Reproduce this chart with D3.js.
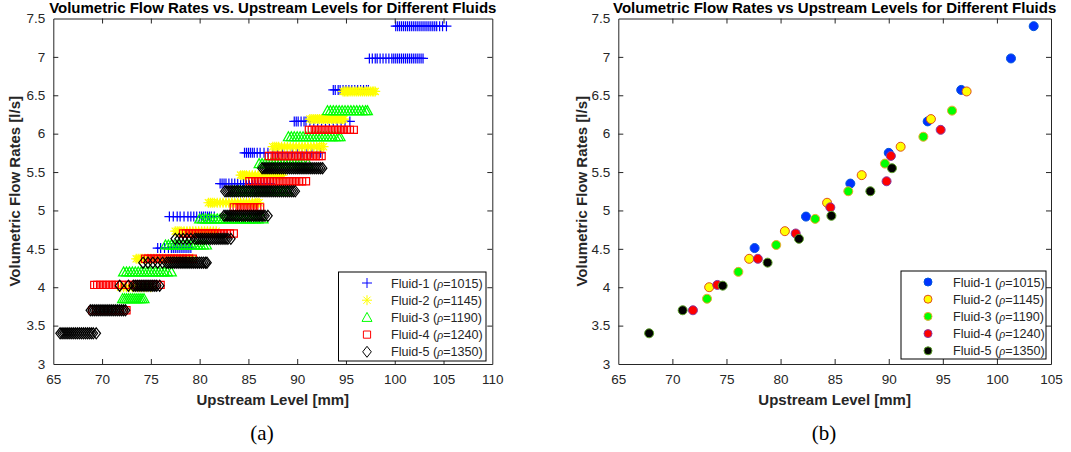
<!DOCTYPE html>
<html lang="en">
<head>
  <meta charset="UTF-8">
  <title>Volumetric Flow Rates vs Upstream Levels</title>
  <script src="https://d3js.org/d3.v7.min.js"></script>
  <style>
    body { margin: 0; background: #fff; }
    svg { display: block; font-family: "Liberation Sans", Arial, sans-serif; }
    .tick-label { font-size: 13.5px; fill: #262626; }
    .axis-title { font-size: 15px; font-weight: bold; fill: #262626; }
    .chart-title { font-size: 15px; font-weight: bold; fill: #000; }
    .legend-text { font-size: 12.6px; fill: #262626; }
    .caption { font-family: "Liberation Serif", "DejaVu Serif", serif; font-size: 21px; fill: #000; }
  </style>
</head>
<body>
<script>
// legend names and densities
const fluidNames = ["Fluid-1", "Fluid-2", "Fluid-3", "Fluid-4", "Fluid-5"];
const densities = [1015, 1145, 1190, 1240, 1350];

// flow rate levels [l/s] per fluid
const f1Rates = [7.40, 6.98, 6.57, 6.16, 5.75, 5.35, 4.92, 4.51];
const f2Rates = [6.55, 6.19, 5.83, 5.46, 5.10, 4.73, 4.37, 4.00];
const f3Rates = [6.30, 5.96, 5.61, 5.25, 4.89, 4.55, 4.20, 3.85];
const f4Rates = [6.05, 5.71, 5.38, 5.04, 4.70, 4.37, 4.03, 3.70];
const f5Rates = [5.55, 5.25, 4.93, 4.63, 4.32, 4.02, 3.70, 3.40];

// mean upstream level [mm] per flow rate (panel b)
const f1Mean = [103.4, 101.3, 96.7, 93.6, 90.0, 86.45, 82.35, 77.6];
const f2Mean = [97.2, 93.9, 91.1, 87.5, 84.3, 80.4, 77.1, 73.4];
const f3Mean = [95.85, 93.2, 89.65, 86.26, 83.2, 79.6, 76.1, 73.2];
const f4Mean = [94.8, 90.2, 89.8, 84.6, 81.4, 77.9, 74.15, 71.9];
const f5Mean = [90.3, 88.3, 84.7, 81.7, 78.8, 74.65, 70.95, 67.85];

// individual upstream level readings [mm] per flow rate (panel a)
const f1Runs = [
  [100.1,100.3,100.5,100.7,100.9,101.1,101.3,101.5,101.7,101.9,102.1,102.3,102.5,102.7,102.9,103.1,103.3,103.5,103.7,103.9,104.1,104.3,104.6,104.9,105.3],
  [97.4,97.7,98.0,98.2,98.5,98.8,99.1,99.4,99.7,99.9,100.1,100.3,100.5,100.7,100.9,101.1,101.3,101.5,101.7,101.9,102.1,102.3,102.5,102.7,102.9],
  [93.7,93.9,94.2,94.4,94.7,95.0,95.3,95.6,95.9,96.2,96.5,96.8,97.1,97.3],
  [89.7,89.9,90.1,90.4,90.7,90.9,91.3,91.7,92.1,92.5,92.9,93.3,93.7,94.1,94.5,94.9,95.4],
  [84.6,84.8,85.0,85.2,85.4,85.6,85.9,86.2,86.6,87.0,87.5,88.0,88.5,89.0,89.5,90.0,90.5,91.0,91.5,92.0,92.4],
  [82.1,82.3,82.5,82.7,83.0,83.3,83.6,83.9,84.2,84.5,84.8,85.1,85.4,85.7,86.0,86.3,86.6,86.9,87.2],
  [76.9,77.3,77.7,78.0,78.4,78.8,79.1,79.4,79.7,80.0,80.2,80.4,80.6,80.8,81.0,81.2,81.5],
  [75.7,76.0,76.4,76.8,77.1,77.3,77.5,77.7,77.9,78.1,78.3,78.5,78.7,78.9,79.1]
];
const f2Runs = [
  [94.7,94.85,95.0,95.15,95.3,95.5,95.7,95.9,96.1,96.3,96.5,96.7,96.9,97.1,97.3,97.5,97.7,97.85,98.0],
  [91.3,91.5,91.7,91.9,92.1,92.3,92.5,92.7,92.9,93.1,93.3,93.5,93.7,93.9,94.1,94.3,94.5,94.65,94.8],
  [87.5,87.7,87.9,88.1,88.4,88.7,89.0,89.3,89.6,89.9,90.2,90.5,90.8,91.1,91.4,91.7,92.0,92.3,92.5,92.7],
  [84.2,84.4,84.6,84.8,85.1,85.4,85.7,86.0,86.3,86.6,86.9,87.2,87.5,87.8,88.1,88.3,88.5],
  [80.9,81.1,81.3,81.5,81.8,82.1,82.4,82.7,83.0,83.3,83.6,83.9,84.2,84.5,84.8,85.1,85.4,85.7,85.9,86.1],
  [77.5,77.7,77.9,78.1,78.4,78.7,79.0,79.3,79.6,79.9,80.2,80.5,80.8,81.1,81.4,81.7],
  [73.5,73.7,73.9,74.1,74.4,74.7,75.0,75.3,75.6,75.9,76.2,76.5,76.8,77.1,77.4,77.7,78.0,78.3,78.6,78.9,79.3],
  [71.9,72.2,72.5,72.8,73.1,73.4,73.7,74.0,74.3,74.6,75.0]
];
const f3Runs = [
  [93.1,93.4,93.7,94.0,94.3,94.6,94.9,95.2,95.5,95.8,96.1,96.4,96.7,97.0,97.2],
  [89.1,89.4,89.7,90.0,90.3,90.6,90.9,91.2,91.5,91.8,92.1,92.4,92.7,93.0,93.3,93.6,93.9,94.2,94.4],
  [86.1,86.4,86.7,87.0,87.3,87.6,87.9,88.2,88.5,88.8,89.1,89.4,89.7,90.0,90.3,90.6,91.1],
  [83.5,83.8,84.1,84.4,84.7,85.0,85.3,85.6,85.9,86.2,86.5,86.8,87.1,87.4,87.7,88.0,88.3,88.6,89.0],
  [80.0,80.3,80.6,80.9,81.2,81.5,81.8,82.1,82.4,82.7,83.0,83.3,83.6,83.9,84.2,84.5,84.8,85.1,85.4,85.7,86.0,86.5],
  [76.5,76.8,77.1,77.4,77.7,78.0,78.3,78.6,78.9,79.2,79.5,79.8,80.1,80.4,80.7],
  [72.2,72.5,72.8,73.1,73.4,73.7,74.0,74.3,74.6,74.9,75.2,75.5,75.8,76.1,76.4,76.7,77.1],
  [72.1,72.3,72.5,72.7,72.9,73.1,73.3,73.5,73.7,73.9,74.1,74.3]
];
const f4Runs = [
  [91.2,91.5,91.8,92.1,92.4,92.7,93.0,93.3,93.6,93.9,94.2,94.5,94.8,95.1,95.4,95.8],
  [87.1,87.4,87.7,88.0,88.3,88.6,88.9,89.2,89.5,89.8,90.1,90.4,90.7,91.0,91.3,91.6,91.9,92.2,92.5],
  [85.1,85.4,85.7,86.0,86.3,86.6,86.9,87.2,87.5,87.8,88.1,88.4,88.7,89.0,89.3,89.6,89.9,90.2,90.5,90.9],
  [83.5,83.8,84.1,84.4,84.7,85.0,85.3,85.6,85.9,86.2],
  [78.3,78.6,78.9,79.2,79.5,79.8,80.1,80.4,80.7,81.0,81.3,81.6,81.9,82.2,82.5,82.8,83.1,83.5],
  [74.4,74.7,75.0,75.3,75.6,75.9,76.2,76.5,76.8,77.1,77.4,77.7,78.0,78.3,78.6,78.9,79.3],
  [69.2,69.5,69.8,70.1,70.4,70.7,71.0,71.3,71.6,72.0,72.4,72.8,73.2,73.6,74.0,74.4,74.8,75.2,75.6,76.0],
  [69.0,69.4,69.8,70.2,70.6,71.0,71.4,71.8,72.2,72.5]
];
const f5Runs = [
  [86.4,86.6,86.8,87.0,87.2,87.4,87.6,87.8,88.0,88.2,88.4,88.6,88.8,89.0,89.2,89.4,89.6,89.8,90.0,90.2,90.4,90.6,90.8,91.0,91.2,91.4,91.6,91.8,92.0,92.2,92.4,92.6],
  [82.6,82.8,83.0,83.2,83.4,83.6,83.8,84.0,84.2,84.4,84.6,84.8,85.0,85.2,85.4,85.6,85.8,86.0,86.2,86.4,86.6,86.8,87.0,87.2,87.4,87.6,87.8,88.0,88.2,88.4,88.6,88.8,89.0,89.2,89.4,89.6,89.8],
  [82.5,82.7,82.9,83.1,83.3,83.5,83.7,83.9,84.1,84.3,84.5,84.7,84.9,85.1,85.3,85.5,85.7,85.9,86.1,86.3,86.5,86.7,87.0],
  [77.5,77.9,78.3,78.7,79.1,79.5,79.7,79.9,80.1,80.3,80.5,80.7,80.9,81.1,81.3,81.5,81.7,81.9,82.1,82.3,82.5,82.7,82.9,83.2],
  [74.2,74.7,75.2,75.7,76.2,76.6,76.8,77.0,77.2,77.4,77.6,77.8,78.0,78.2,78.4,78.6,78.8,79.0,79.2,79.4,79.6,79.8,80.0,80.2,80.4,80.6,80.75],
  [71.8,72.7,73.2,73.4,73.6,73.8,74.0,74.2,74.4,74.6,74.8,75.0,75.2,75.4,75.6,75.9],
  [68.8,69.0,69.2,69.4,69.6,69.8,70.0,70.2,70.4,70.6,70.8,71.0,71.2,71.4,71.6,71.8,72.0,72.2,72.4],
  [65.7,65.9,66.1,66.3,66.5,66.7,66.9,67.1,67.3,67.5,67.7,67.9,68.1,68.3,68.5,68.7,68.9,69.1,69.4]
];

// axis ticks
const yTicks = [3, 3.5, 4, 4.5, 5, 5.5, 6, 6.5, 7, 7.5];
const xTicksA = [65, 70, 75, 80, 85, 90, 95, 100, 105, 110];
const xTicksB = [65, 70, 75, 80, 85, 90, 95, 100, 105];

const rates = [f1Rates, f2Rates, f3Rates, f4Rates, f5Rates];
const runs = [f1Runs, f2Runs, f3Runs, f4Runs, f5Runs];
const means = [f1Mean, f2Mean, f3Mean, f4Mean, f5Mean];

// styles
const lineColors = ["#0000ff", "#ffff00", "#00ff00", "#ff0000", "#000000"];
const dotFill = ["#0033ff", "#ffff00", "#00ff00", "#ff0000", "#000000"];
const dotEdge = ["#0055dd", "#e0501a", "#f0a830", "#8a3aa0", "#5ca02a"];
const markerPaths = [
  "M-5,0H5M0,-5V5",
  "M-5,0H5M0,-5V5M-3.6,-3.6L3.6,3.6M-3.6,3.6L3.6,-3.6",
  "M0,-5L5,4L-5,4Z",
  "M-3.6,-3.6H3.6V3.6H-3.6Z",
  "M0,-5.5L4.3,0L0,5.5L-4.3,0Z"
];

const W = 1071, H = 452;
const svg = d3.select("body").append("svg").attr("width", W).attr("height", H);
svg.append("rect").attr("width", W).attr("height", H).attr("fill", "#fff");

function drawPanel(cfg) {
  const x = d3.scaleLinear().domain(cfg.xDomain).range([cfg.left, cfg.right]);
  const y = d3.scaleLinear().domain([3, 7.5]).range([cfg.bottom, cfg.top]);
  const g = svg.append("g");

  // data
  const plot = g.append("g");
  rates.forEach((r, i) => {
    if (cfg.kind === "runs") {
      const pts = [];
      r.forEach((q, j) => runs[i][j].forEach(v => pts.push([v, q])));
      plot.selectAll(null).data(pts).enter().append("path")
        .attr("d", markerPaths[i])
        .attr("transform", d => `translate(${x(d[0])},${y(d[1])})`)
        .attr("fill", "none").attr("stroke", lineColors[i]).attr("stroke-width", 1.2);
    } else {
      plot.selectAll(null).data(r.map((q, j) => [means[i][j], q])).enter().append("circle")
        .attr("cx", d => x(d[0])).attr("cy", d => y(d[1])).attr("r", 4.5)
        .attr("fill", dotFill[i]).attr("stroke", dotEdge[i]).attr("stroke-width", 1);
    }
  });

  // axes box with inward ticks
  const ax = "#262626";
  const fmt = d3.format("~g");
  const xb = d3.axisBottom(x).tickValues(cfg.xTicks).tickSizeInner(-5).tickSizeOuter(0).tickPadding(10).tickFormat(fmt);
  const xt = d3.axisTop(x).tickValues(cfg.xTicks).tickSizeInner(-5).tickSizeOuter(0).tickFormat("");
  const yl = d3.axisLeft(y).tickValues(yTicks).tickSizeInner(-5).tickSizeOuter(0).tickPadding(8).tickFormat(fmt);
  const yr = d3.axisRight(y).tickValues(yTicks).tickSizeInner(-5).tickSizeOuter(0).tickFormat("");

  const gb = g.append("g").attr("transform", `translate(0,${cfg.bottom})`).call(xb);
  g.append("g").attr("transform", `translate(0,${cfg.top})`).call(xt);
  const gl = g.append("g").attr("transform", `translate(${cfg.left},0)`).call(yl);
  g.append("g").attr("transform", `translate(${cfg.right},0)`).call(yr);
  g.selectAll(".domain, .tick line").attr("stroke", ax).attr("stroke-width", 1);
  gb.selectAll("text").attr("class", "tick-label").attr("font-family", null).attr("font-size", null).attr("fill", null);
  gl.selectAll("text").attr("class", "tick-label").attr("font-family", null).attr("font-size", null).attr("fill", null);
  g.selectAll(".tick").filter(d => d === cfg.xDomain[0] || d === cfg.xDomain[1] || d === 3 || d === 7.5)
    .select("line").attr("stroke-opacity", 0);

  // titles
  const cx = (cfg.left + cfg.right) / 2;
  g.append("text").attr("class", "chart-title").attr("x", cx).attr("y", 13)
    .attr("text-anchor", "middle").text(cfg.title);
  g.append("text").attr("class", "axis-title").attr("x", cx).attr("y", 405)
    .attr("text-anchor", "middle").text("Upstream Level [mm]");
  g.append("text").attr("class", "axis-title")
    .attr("transform", `translate(${cfg.ylabX},${(cfg.top + cfg.bottom) / 2}) rotate(-90)`)
    .attr("text-anchor", "middle").text("Volumetric Flow Rates [l/s]");
  g.append("text").attr("class", "caption").attr("x", cfg.capX).attr("y", 440)
    .attr("text-anchor", "middle").text(cfg.caption);

  // legend
  const lg = g.append("g");
  lg.append("rect").attr("x", cfg.leg.x).attr("y", cfg.leg.y).attr("width", cfg.leg.w).attr("height", cfg.leg.h)
    .attr("fill", "#fff").attr("stroke", "#000").attr("stroke-width", 1);
  fluidNames.forEach((n, i) => {
    const ry = cfg.leg.y + 11 + i * 17.2;
    if (cfg.kind === "runs") {
      lg.append("path").attr("d", markerPaths[i]).attr("transform", `translate(${cfg.leg.mx},${ry})`)
        .attr("fill", "none").attr("stroke", lineColors[i]).attr("stroke-width", 1);
    } else {
      lg.append("circle").attr("cx", cfg.leg.mx).attr("cy", ry).attr("r", 4)
        .attr("fill", dotFill[i]).attr("stroke", dotEdge[i]).attr("stroke-width", 1);
    }
    const t = lg.append("text").attr("class", "legend-text").attr("x", cfg.leg.tx).attr("y", ry + 4.6);
    t.append("tspan").text(n + " (");
    t.append("tspan").attr("font-family", "'Liberation Serif', serif").attr("font-style", "italic").text("ρ");
    t.append("tspan").text("=" + densities[i] + ")");
  });
}

drawPanel({
  kind: "runs", left: 53.3, right: 492.3, top: 18.5, bottom: 364, xDomain: [65, 110], xTicks: xTicksA,
  title: "Volumetric Flow Rates vs. Upstream Levels for Different Fluids", ylabX: 20, capX: 262, caption: "(a)",
  leg: { x: 338.5, y: 272, w: 147.5, h: 89, mx: 367, tx: 391 }
});
drawPanel({
  kind: "means", left: 618.3, right: 1051, top: 18.5, bottom: 364, xDomain: [65, 105], xTicks: xTicksB,
  title: "Volumetric Flow Rates vs Upstream Levels for Different Fluids", ylabX: 587, capX: 824, caption: "(b)",
  leg: { x: 901, y: 271, w: 145, h: 88, mx: 928, tx: 953 }
});
</script>
</body>
</html>
